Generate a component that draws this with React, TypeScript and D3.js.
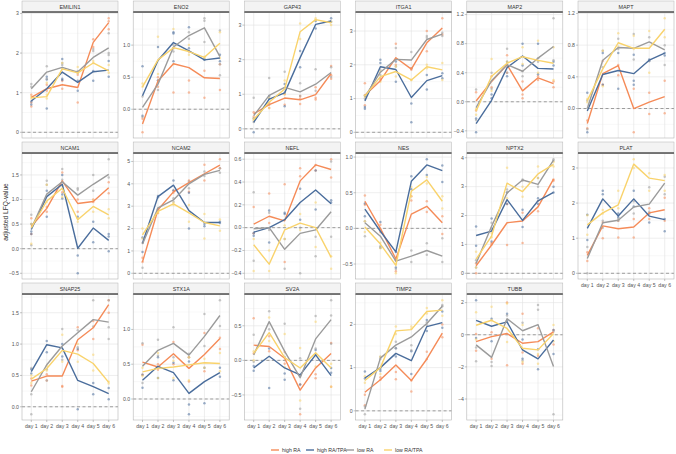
import React from "react";
import * as d3 from "d3";

const days = ["day 1", "day 2", "day 3", "day 4", "day 5", "day 6"];
const groups = ["high RA", "high RA/TPA", "low RA", "low RA/TPA"];
const groupColors = ["#f58b58", "#4a6d9c", "#9b9b9b", "#f9d36c"];

// mean per group (high RA, high RA/TPA, low RA, low RA/TPA) for day 1..6
const EMILIN1_mean = [[0.88, 1.1, 1.2, 1.13, 2.27, 2.77], [0.79, 1.1, 1.52, 1.26, 1.53, 1.57], [1.1, 1.52, 1.64, 1.52, 1.89, 2.13], [0.87, 0.9, 1.6, 1.5, 1.75, 1.55]];
const ENO2_mean = [[-0.23, 0.44, 0.71, 0.65, 0.49, 0.48], [0.21, 0.76, 1.04, 0.91, 0.77, 0.8], [0.03, 0.39, 0.97, 1.15, 1.27, 0.82], [0.35, 0.77, 0.96, 0.9, 0.81, 1.03]];
const GAP43_mean = [[0.43, 0.7, 0.89, 0.84, 0.99, 1.6], [0.19, 0.86, 1.04, 2.06, 3.02, 3.12], [0.38, 0.97, 1.2, 1.07, 1.29, 1.63], [0.27, 0.77, 1.15, 2.81, 3.16, 3.07]];
const ITGA1_mean = [[1.1, 1.53, 2.21, 1.87, 2.65, 3.09], [0.93, 1.94, 1.86, 1.03, 1.53, 1.68], [1.05, 1.78, 2.16, 2.14, 2.75, 2.91], [1.07, 1.65, 1.8, 1.55, 1.94, 1.85]];
const MAP2_mean = [[0.01, 0.28, 0.51, 0.15, 0.33, 0.25], [-0.3, 0.02, 0.47, 0.63, 0.46, 0.45], [-0.08, 0.29, 0.51, 0.42, 0.6, 0.76], [-0.13, 0.35, 0.53, 0.62, 0.57, 0.53]];
const MAPT_mean = [[-0.19, 0.44, 0.54, 0.0, 0.08, 0.15], [-0.03, 0.43, 0.48, 0.44, 0.61, 0.7], [0.0, 0.61, 0.77, 0.76, 0.84, 0.74], [0.1, 0.5, 0.83, 0.76, 0.76, 1.0]];
const NCAM1_mean = [[0.45, 0.82, 1.38, 0.92, 0.96, 1.24], [0.39, 1.06, 1.31, 0.01, 0.42, 0.17], [0.41, 1.11, 1.36, 1.09, 1.31, 1.51], [0.43, 0.97, 1.23, 0.59, 0.86, 0.69]];
const NCAM2_mean = [[0.51, 2.84, 3.64, 4.05, 4.45, 4.84], [1.34, 3.43, 3.94, 2.8, 2.27, 2.27], [1.31, 2.92, 3.28, 4.0, 4.42, 4.6], [1.72, 2.77, 3.1, 2.7, 2.27, 2.12]];
const NEFL_mean = [[0.03, 0.1, 0.06, 0.41, 0.55, 0.51], [-0.04, 0.0, 0.07, 0.22, 0.33, 0.21], [-0.01, 0.0, -0.19, -0.05, -0.02, 0.14], [-0.15, -0.32, -0.02, 0.04, 0.0, -0.26]];
const NES_mean = [[0.38, 0.0, -0.43, 0.2, 0.31, 0.08], [0.27, -0.04, -0.33, 0.66, 0.89, 0.81], [0.08, -0.11, -0.46, -0.39, -0.31, -0.39], [0.02, -0.22, -0.52, 0.52, 0.68, 0.38]];
const NPTX2_mean = [[0.26, 0.98, 1.75, 1.81, 2.3, 3.26], [1.31, 1.46, 2.55, 1.83, 2.51, 2.8], [0.34, 1.63, 2.78, 3.23, 3.08, 3.92], [0.49, 1.29, 3.12, 2.83, 3.44, 3.77]];
const PLAT_mean = [[0.51, 1.35, 1.27, 1.32, 1.72, 1.81], [1.28, 2.12, 1.63, 2.12, 1.63, 1.53], [0.42, 1.44, 1.51, 1.89, 1.97, 2.57], [1.38, 1.72, 1.95, 3.11, 2.71, 2.64]];
const SNAP25_mean = [[0.41, 0.49, 0.49, 1.07, 1.26, 1.63], [0.56, 0.99, 0.94, 0.42, 0.32, 0.21], [0.24, 0.67, 0.97, 1.18, 1.39, 1.35], [0.44, 0.61, 0.9, 0.84, 0.69, 0.39]];
const STX1A_mean = [[0.53, 0.46, 0.65, 0.44, 0.64, 0.87], [0.27, 0.47, 0.38, 0.08, 0.25, 0.38], [0.47, 0.7, 0.8, 0.63, 0.9, 1.2], [0.39, 0.44, 0.46, 0.49, 0.52, 0.51]];
const SV2A_mean = [[0.22, 0.2, 0.03, -0.43, -0.11, 0.1], [-0.11, 0.06, -0.11, -0.21, 0.08, -0.22], [0.08, 0.56, 0.13, -0.25, 0.31, 0.59], [0.1, 0.4, 0.04, -0.11, 0.11, -0.11]];
const TIMP2_mean = [[0.43, 0.72, 1.06, 0.7, 1.2, 1.8], [0.76, 1.0, 1.33, 1.16, 1.95, 2.04], [0.04, 1.22, 1.52, 1.71, 2.02, 2.42], [0.7, 1.0, 1.85, 1.88, 2.3, 2.33]];
const TUBB_mean = [[-0.43, -0.12, 0.08, -0.53, -0.43, 0.18], [0.9, 0.53, 0.8, -0.94, -1.5, -0.33], [-0.63, -1.41, 1.0, 0.25, 0.63, -1.97], [0.59, 0.9, 0.39, -0.84, -0.94, 0.08]];

// replicate values per group, per day
const EMILIN1_reps = [
  [[0.65, 0.75, 0.95], [1.05, 1.2], [1.1, 1.3], [0.75, 1.45], [2.15, 2.35], [2.6, 2.8, 2.88]],
  [[0.7, 0.78], [0.6, 1.33, 1.4], [1.32, 1.35, 1.85], [1.05, 1.3], [1.3, 1.55], [1.4, 1.8]],
  [[1.15, 1.22], [1.35, 1.67], [1.7, 1.75], [1.5, 1.55], [2.05, 2.1], [1.95, 2.0, 2.5]],
  [[0.85, 0.9], [0.85, 0.95, 1.25], [1.6, 1.75], [1.5, 1.65], [1.75, 1.8], [1.5, 1.7]],
];
const ENO2_reps = [
  [[-0.36, -0.15], [0.35, 0.5], [0.26, 0.95], [0.26, 0.45, 0.9], [0.18, 0.6], [0.3, 0.7]],
  [[-0.1, 0.67], [0.45, 0.97], [0.75, 1.18, 1.2], [0.95, 1.28], [0.77, 0.78], [0.75, 0.85]],
  [[-0.12, 0.2], [0.3, 0.45], [0.9, 1.0], [1.1, 1.2], [1.05, 1.38, 1.42], [0.53, 0.7, 1.23]],
  [[0.35, 0.4], [0.55, 1.13], [0.7, 1.25], [0.85, 1.0], [0.8, 0.82], [0.8, 1.2]],
];
const GAP43_reps = [
  [[0.35, 0.48], [0.6, 0.75], [0.7, 1.0], [0.72, 0.88, 0.95], [0.85, 0.9, 1.2], [1.45, 1.55, 1.82]],
  [[-0.1, 0.3], [0.87, 0.95], [0.65, 1.3], [1.78, 2.25], [2.9, 3.12], [3.1, 3.2]],
  [[0.2, 0.9], [0.7, 1.47], [1.05, 1.65], [0.95, 1.32], [1.1, 1.72], [1.5, 1.78]],
  [[0.25, 0.3], [0.6, 0.9], [1.0, 1.4], [2.6, 3.05], [3.15, 3.2], [3.0, 3.1]],
];
const ITGA1_reps = [
  [[0.8, 1.45], [1.55, 1.6], [2.0, 2.62], [1.85, 1.9], [2.4, 3.0], [2.9, 3.38]],
  [[0.7, 0.75], [2.05, 2.15], [1.5, 2.1], [0.3, 0.85], [1.27, 1.7], [1.6, 1.75]],
  [[1.0, 1.1], [1.7, 1.85], [1.95, 2.5], [1.9, 2.38], [2.8, 2.85], [2.85, 2.95]],
  [[1.05, 1.1], [1.5, 1.8], [1.65, 1.95], [1.55, 1.55], [1.9, 2.0], [1.55, 2.05]],
];
const MAP2_reps = [
  [[-0.12, 0.13], [0.2, 0.35], [0.4, 0.64], [0.05, 0.1, 0.28], [0.3, 0.35], [0.2, 0.28]],
  [[-0.42, -0.23], [0.05, 0.1], [0.35, 0.55], [0.5, 0.8], [0.38, 0.8], [0.5, 0.55]],
  [[-0.25, 0.17], [0.18, 0.4], [0.4, 0.73], [0.35, 0.42], [0.55, 0.6], [0.57, 1.15]],
  [[-0.18, -0.1], [0.15, 0.59], [0.5, 0.55], [0.52, 0.75], [0.4, 0.84], [0.3, 0.75]],
];
const MAPT_reps = [
  [[-0.25, -0.15], [0.3, 0.6], [0.42, 0.55], [-0.3, 0.25], [-0.07, 0.2], [-0.06, 0.35]],
  [[-0.3, 0.2], [0.3, 0.7], [0.25, 0.7], [0.3, 0.35, 0.68], [0.6, 0.62], [0.67, 0.7]],
  [[-0.26, 0.1], [0.52, 0.73], [0.75, 0.88], [0.62, 0.94], [0.6, 0.9], [0.55, 0.8]],
  [[0.08, 0.12], [0.28, 0.73], [0.78, 0.95], [0.75, 0.92], [0.45, 0.98], [0.9, 1.14]],
];
const NCAM1_reps = [
  [[0.3, 0.62], [0.75, 0.85], [1.15, 1.55], [0.75, 1.0], [0.95, 1.0], [1.13, 1.35]],
  [[0.3, 0.35, 0.5], [0.65, 1.18], [1.02, 1.1, 1.5], [-0.5, -0.14, 0.65], [0.13, 0.55], [-0.05, 0.25, 0.3]],
  [[0.07, 0.69], [1.3, 1.38], [1.4, 1.62], [1.2, 1.23], [1.18, 1.5], [1.45, 1.82]],
  [[0.1, 0.5], [0.95, 1.3], [1.05, 1.28], [0.55, 0.62], [0.75, 0.98], [0.62, 0.8]],
];
const NCAM2_reps = [
  [[0.5, 0.7], [2.7, 2.85], [3.6, 3.7], [3.65, 4.15], [4.15, 4.85], [4.7, 5.1]],
  [[0.95, 1.6], [3.4, 3.45], [3.7, 4.15], [2.0, 3.6], [2.1, 2.2], [2.25, 2.3]],
  [[0.25, 1.35], [2.85, 2.9], [3.2, 3.35], [3.8, 4.1], [4.35, 4.55], [4.5, 4.7]],
  [[1.55, 2.0], [2.7, 2.75], [3.05, 3.15], [2.3, 3.05], [1.55, 2.65], [1.9, 2.4]],
];
const NEFL_reps = [
  [[-0.05, 0.18], [0.04, 0.3], [-0.3, 0.38], [0.45, 0.52], [0.5, 0.55], [0.44, 0.6]],
  [[-0.07, -0.05], [-0.13, 0.15], [0.12, 0.13], [0.07, 0.34], [0.16, 0.5], [0.22, 0.24]],
  [[-0.29, 0.31], [-0.02, 0.13], [-0.36, -0.1], [-0.4, 0.0], [-0.25, -0.08], [-0.08, 0.58]],
  [[-0.38, -0.1], [-0.38, -0.2], [-0.1, 0.02], [-0.02, 0.12], [-0.17, 0.22], [-0.36, -0.25]],
];
const NES_reps = [
  [[0.33, 0.46], [-0.05, 0.05], [-0.6, -0.45], [0.39, 0.45], [0.23, 0.38], [-0.08, 0.17]],
  [[0.17, 0.35], [-0.27, 0.09], [-0.55, -0.33], [0.55, 0.73], [0.75, 0.97], [0.65, 0.88]],
  [[-0.11, 0.1], [-0.25, -0.02], [-0.57, -0.43], [-0.47, -0.31], [-0.37, -0.21], [-0.47, -0.14]],
  [[-0.05, 0.1], [-0.28, -0.2], [-0.63, -0.5], [0.45, 0.58], [0.63, 0.72], [0.28, 0.45]],
];
const NPTX2_reps = [
  [[0.0, 0.35], [1.0, 1.05], [0.98, 2.4], [1.05, 2.1], [2.15, 2.5], [3.2, 3.25]],
  [[0.95, 1.62], [1.1, 1.9], [2.4, 2.8], [1.6, 2.2], [2.4, 2.6], [2.8, 3.0]],
  [[0.2, 0.45], [1.55, 1.75], [2.8, 2.9], [3.2, 3.25], [3.0, 3.3], [3.9, 3.95]],
  [[0.2, 0.75], [1.25, 1.4], [2.6, 3.65], [2.65, 3.0], [3.3, 3.7], [3.7, 3.85]],
];
const PLAT_reps = [
  [[0.35, 0.6], [1.0, 1.45], [1.02, 1.5], [1.02, 1.55], [1.55, 1.85], [1.5, 2.15]],
  [[0.95, 1.67], [2.25, 2.35], [1.6, 1.7], [1.9, 2.35], [1.45, 1.7], [1.2, 1.55]],
  [[0.0, 0.75], [1.3, 1.5], [1.5, 1.55], [1.7, 2.05], [1.75, 2.45], [2.25, 2.75]],
  [[1.1, 1.65], [1.7, 1.8], [1.85, 2.35], [3.0, 3.25], [2.35, 2.85], [2.35, 2.8]],
];
const SNAP25_reps = [
  [[0.34, 0.45], [0.42, 0.52], [0.32, 0.33], [0.9, 1.27], [1.08, 1.37], [1.5, 1.7]],
  [[0.53, 0.6], [0.87, 1.05], [0.8, 1.0], [-0.04, 0.92], [0.2, 0.38], [0.12, 0.3]],
  [[-0.12, 0.2, 0.62], [0.42, 0.6], [0.75, 1.24], [0.95, 1.22], [1.28, 1.7], [1.08, 1.27, 1.7]],
  [[0.38, 0.5], [0.58, 0.65], [0.72, 1.15], [0.72, 1.0], [0.58, 0.83], [0.37, 0.4]],
];
const STX1A_reps = [
  [[0.35, 0.78], [0.42, 0.5], [0.5, 0.82], [0.25, 0.6], [0.4, 0.95], [0.72, 0.88]],
  [[0.16, 0.35], [0.3, 0.6], [0.27, 0.52], [-0.22, -0.08, 0.54], [-0.06, 0.45], [0.32, 0.45]],
  [[0.23, 0.8], [0.62, 0.85], [0.6, 1.03], [0.6, 0.65], [0.76, 1.22], [1.05, 1.42]],
  [[0.33, 0.45], [0.3, 0.66], [0.3, 0.55], [0.27, 0.6], [0.45, 0.58], [0.4, 0.66]],
];
const SV2A_reps = [
  [[0.1, 0.61], [0.13, 0.35], [-0.05, 0.12], [-0.78, -0.35], [-0.26, -0.2], [-0.38, 0.25]],
  [[-0.15, -0.08], [-0.4, 0.17], [-0.28, -0.19], [-0.35, -0.22], [0.08, 0.15], [-0.18, -0.11]],
  [[-0.02, 0.37], [0.45, 0.71], [0.05, 0.53], [-0.7, 0.03], [0.17, 0.64], [0.24, 0.65, 0.87]],
  [[0.0, 0.13], [0.28, 0.62], [-0.1, 0.38], [-0.58, 0.18], [-0.09, 0.56], [-0.38, -0.05]],
];
const TIMP2_reps = [
  [[0.13, 0.37], [0.72, 0.78], [0.73, 0.9], [0.45, 0.7], [1.2, 1.37], [1.7, 2.0]],
  [[0.75, 0.91], [0.92, 0.97], [1.26, 1.45], [0.85, 1.38], [1.85, 2.1], [1.92, 2.3]],
  [[-0.08, 0.1], [1.2, 1.25], [1.45, 1.6], [1.4, 1.52], [1.98, 2.05], [2.42, 2.45]],
  [[0.65, 0.8], [0.85, 1.25], [1.78, 1.95], [1.9, 1.95], [2.25, 2.38], [2.2, 2.56]],
];
const TUBB_reps = [
  [[-1.0, 0.05], [-1.5, 0.15], [-1.9, 2.0], [-1.8, -1.1, 1.3], [-1.3, 0.4], [-0.6, 0.3]],
  [[-0.2, 2.15], [-0.4, 1.0], [0.9, 1.3], [-1.5, -0.3], [-2.15, -0.9], [-1.2, 0.3]],
  [[-1.65, -0.8], [-1.95, -1.7], [0.8, 1.2], [-1.6, 0.75], [1.55, 1.85], [-4.95, 0.2]],
  [[-0.3, 1.4], [0.9, 1.75], [-0.45, 1.95], [-1.7, 0.6], [-1.8, -1.2], [-0.4, 0.6]],
];

const genes = ["EMILIN1", "ENO2", "GAP43", "ITGA1", "MAP2", "MAPT", "NCAM1", "NCAM2", "NEFL", "NES", "NPTX2", "PLAT", "SNAP25", "STX1A", "SV2A", "TIMP2", "TUBB"];
const geneMeans = [EMILIN1_mean, ENO2_mean, GAP43_mean, ITGA1_mean, MAP2_mean, MAPT_mean, NCAM1_mean, NCAM2_mean, NEFL_mean, NES_mean, NPTX2_mean, PLAT_mean, SNAP25_mean, STX1A_mean, SV2A_mean, TIMP2_mean, TUBB_mean];
const geneReps = [EMILIN1_reps, ENO2_reps, GAP43_reps, ITGA1_reps, MAP2_reps, MAPT_reps, NCAM1_reps, NCAM2_reps, NEFL_reps, NES_reps, NPTX2_reps, PLAT_reps, SNAP25_reps, STX1A_reps, SV2A_reps, TIMP2_reps, TUBB_reps];
const geneTicks = [
  [0, 1, 2, 3], [0, 0.5, 1], [0, 1, 2, 3], [0, 1, 2, 3], [-0.4, 0, 0.4, 0.8, 1.2], [0, 0.4, 0.8, 1.2],
  [-0.5, 0, 0.5, 1, 1.5], [0, 1, 2, 3, 4, 5], [-0.4, -0.2, 0, 0.2, 0.4, 0.6], [-0.5, 0, 0.5, 1], [0, 1, 2, 3, 4], [0, 1, 2, 3],
  [0, 0.5, 1, 1.5], [0, 0.5, 1], [-0.5, 0, 0.5], [0, 1, 2], [-4, -2, 0, 2],
];

const font = "'Liberation Sans', Arial, sans-serif";
const nCol = 6;
const panelW = 96;
const colPitch = 111.2;
const rowPitch = 141;
const stripH = 11;

const fmt = (v: number, ticks: number[]) => {
  const dec = ticks.some(t => Math.abs(t - Math.round(t)) > 1e-9) ? 1 : 0;
  return d3.format(`.${dec}f`)(v);
};

function Panel({ idx }: { idx: number }) {
  const col = idx % nCol;
  const row = Math.floor(idx / nCol);
  const left = 22 + col * colPitch;
  const top = 1 + row * rowPitch;
  const plotTop = top + stripH + 0.5;
  const plotBottom = top + 137;
  const means = geneMeans[idx];
  const reps = geneReps[idx];
  const ticks = geneTicks[idx];
  const showX = idx + nCol >= genes.length;

  const allVals = [0, ...means.flat(), ...reps.flat(2)];
  const [lo, hi] = d3.extent(allVals) as [number, number];
  const pad = (hi - lo) * 0.05;
  const y = d3.scaleLinear().domain([lo - pad, hi + pad]).range([plotBottom, plotTop]);
  const x = d3.scalePoint<string>().domain(days).range([left, left + panelW]).padding(0.6);

  const step = ticks[1] - ticks[0];
  const minor: number[] = [];
  for (let t = ticks[0] - step / 2; t <= hi + pad; t += step) {
    if (t >= lo - pad) minor.push(t);
  }

  const line = d3.line<number>()
    .x((_, i) => x(days[i]) as number)
    .y(d => y(d));

  return (
    <g>
      <rect x={left} y={plotTop} width={panelW} height={plotBottom - plotTop} fill="#fff" />
      {minor.map((t, i) => (
        <line key={"mn" + i} x1={left} x2={left + panelW} y1={y(t)} y2={y(t)} stroke="#f1f1f1" strokeWidth={0.5} />
      ))}
      {ticks.map(t => (
        <line key={"mj" + t} x1={left} x2={left + panelW} y1={y(t)} y2={y(t)} stroke="#e2e2e2" strokeWidth={0.6} />
      ))}
      {days.map(d => (
        <line key={"v" + d} x1={x(d)} x2={x(d)} y1={plotTop} y2={plotBottom} stroke="#e2e2e2" strokeWidth={0.6} />
      ))}
      <line x1={left} x2={left + panelW} y1={y(0)} y2={y(0)} stroke="#777" strokeWidth={0.7} strokeDasharray="3,2.5" />
      {reps.map((g, gi) =>
        g.map((vals, di) =>
          vals.map((v, k) => (
            <circle key={`p${gi}-${di}-${k}`} cx={x(days[di])} cy={y(v)} r={1.25} fill={groupColors[gi]} opacity={0.55} />
          ))
        )
      )}
      {means.map((m, gi) => (
        <path key={"l" + gi} d={line(m) ?? ""} fill="none" stroke={groupColors[gi]} strokeWidth={1.4} strokeLinejoin="round" />
      ))}
      <rect x={left} y={plotTop} width={panelW} height={plotBottom - plotTop} fill="none" stroke="#b5b5b5" strokeWidth={0.6} />
      {ticks.map(t => (
        <g key={"yt" + t}>
          <line x1={left - 2} x2={left} y1={y(t)} y2={y(t)} stroke="#888" strokeWidth={0.5} />
          <text x={left - 3} y={y(t)} dy="0.35em" textAnchor="end" fontSize={5.2} fill="#555" fontFamily={font}>
            {fmt(t, ticks)}
          </text>
        </g>
      ))}
      <rect x={left} y={top} width={panelW} height={stripH} fill="#f3f3f3" stroke="#b5b5b5" strokeWidth={0.5} />
      <line x1={left} x2={left + panelW} y1={top + stripH} y2={top + stripH} stroke="#555" strokeWidth={1.4} />
      <text x={left + panelW / 2} y={top + stripH / 2 + 0.3} dy="0.35em" textAnchor="middle" fontSize={5.4} fill="#333" fontFamily={font}>
        {genes[idx]}
      </text>
      {showX && days.map(d => (
        <g key={"xt" + d}>
          <line x1={x(d)} x2={x(d)} y1={plotBottom} y2={plotBottom + 2} stroke="#888" strokeWidth={0.5} />
          <text x={x(d)} y={plotBottom + 8} textAnchor="middle" fontSize={5.2} fill="#555" fontFamily={font}>
            {d}
          </text>
        </g>
      ))}
    </g>
  );
}

export default function App() {
  const W = 676;
  const H = 454;
  const legendX = [271, 306, 346, 384];
  return (
    <svg width={W} height={H} viewBox={`0 0 ${W} ${H}`} style={{ position: "absolute", left: 0, top: 0, background: "#fff" }}>
      <rect width={W} height={H} fill="#fff" />
      {genes.map((g, i) => <Panel key={g} idx={i} />)}
      <text transform="translate(8,212) rotate(-90)" textAnchor="middle" fontSize={6.6} fill="#333" fontFamily={font}>
        adjusted LFQ-value
      </text>
      {groups.map((g, i) => (
        <g key={g}>
          <line x1={legendX[i]} x2={legendX[i] + 8} y1={450} y2={450} stroke={groupColors[i]} strokeWidth={1.4} />
          <text x={legendX[i] + 11} y={450} dy="0.35em" fontSize={5.2} fill="#333" fontFamily={font}>{g}</text>
        </g>
      ))}
    </svg>
  );
}
